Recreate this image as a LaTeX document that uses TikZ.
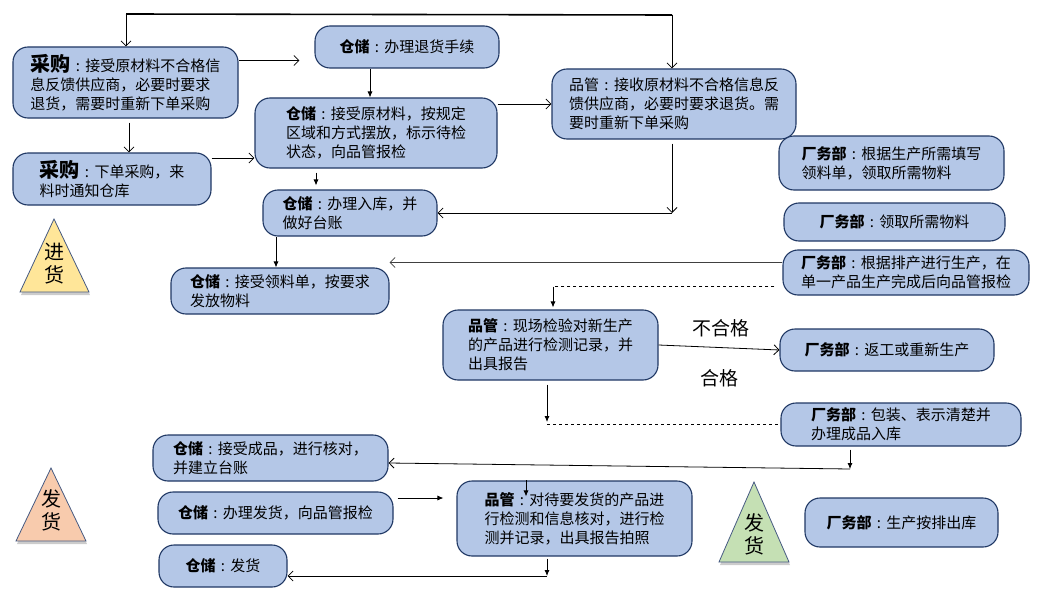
\documentclass[tikz,border=0pt]{standalone}
\usepackage{fontspec}
\setmainfont{Noto Sans CJK SC}
\usetikzlibrary{arrows.meta,shadows}
\definecolor{boxfill}{RGB}{180,199,231}
\definecolor{boxline}{RGB}{32,56,100}
\definecolor{triline}{RGB}{70,90,130}
\definecolor{inyellow}{RGB}{255,230,153}
\definecolor{outorange}{RGB}{248,203,173}
\definecolor{outgreen}{RGB}{197,224,180}
\newcommand{\cln}{\makebox[1em]{:}}
\newcommand{\who}[1]{\textbf{#1}\cln}
\newcommand{\buyhd}{{\fontsize{20}{19}\selectfont\bfseries 采购}\cln}

\begin{document}
\begin{tikzpicture}[x=1pt, y=-1pt,
        box/.style={draw=boxline, fill=boxfill, rounded corners=15pt, line width=1.1pt,
            align=left, inner sep=0pt, font=\fontsize{15}{19}\selectfont},
        tri/.style={draw=triline, line width=0.8pt,
            drop shadow={shadow xshift=1pt, shadow yshift=-3pt, opacity=0.4}},
        trilbl/.style={align=center, inner sep=0pt, font=\fontsize{20}{23}\selectfont},
        lbl/.style={inner sep=0pt, font=\fontsize{19}{22}\selectfont},
        arr/.style={-{Straight Barb[length=5pt, width=10pt]}, line width=0.8pt},
        sarr/.style={-{Latex[length=6pt, width=5pt]}, line width=0.8pt}]
    \useasboundingbox (0,0) rectangle (1042,602);

    % purchasing side
    \node[box, minimum width=225pt, minimum height=71pt] (buy1) at (125.5, 82.5)
        {\buyhd 接受原材料不合格信\\息反馈供应商，必要时要求\\退货，需要时重新下单采购};
    \node[box, minimum width=198pt, minimum height=52pt] (buy2) at (112, 179)
        {\buyhd 下单采购，来\\料时通知仓库};
    \node[box, minimum width=184pt, minimum height=42pt] (ret) at (407, 47)
        {\who{仓储}办理退货手续};
    \node[box, minimum width=242pt, minimum height=70pt] (recv) at (376, 133)
        {\who{仓储}接受原材料，按规定\\区域和方式摆放，标示待检\\状态，向品管报检};
    \node[box, minimum width=244pt, minimum height=70pt] (qc1) at (674, 104)
        {品管\cln 接收原材料不合格信息反\\馈供应商，必要时要求退货。需\\要时重新下单采购};
    \node[box, minimum width=174pt, minimum height=46pt] (stock) at (350, 213)
        {\who{仓储}办理入库，并\\做好台账};
    \node[box, minimum width=218pt, minimum height=46pt] (issue) at (280, 291)
        {\who{仓储}接受领料单，按要求\\发放物料};

    % factory side
    \node[box, minimum width=225pt, minimum height=54pt] (fac1) at (891.5, 163)
        {\who{厂务部}根据生产所需填写\\领料单，领取所需物料};
    \node[box, minimum width=221pt, minimum height=38pt] (fac2) at (894.5, 222)
        {\who{厂务部}领取所需物料};
    \node[box, minimum width=246pt, minimum height=45pt] (fac3) at (906, 272.5)
        {\who{厂务部}根据排产进行生产，在\\单一产品生产完成后向品管报检};
    \node[box, minimum width=215pt, minimum height=70pt] (qc2) at (550.5, 345)
        {\who{品管}现场检验对新生产\\的产品进行检测记录，并\\出具报告};
    \node[box, minimum width=214pt, minimum height=42pt] (fac4) at (887, 350)
        {\who{厂务部}返工或重新生产};
    \node[box, minimum width=240pt, minimum height=43pt] (fac5) at (901, 424.5)
        {\who{厂务部}包装、表示清楚并\\办理成品入库};

    % shipping side
    \node[box, minimum width=235pt, minimum height=46pt] (fin) at (270.5, 458)
        {\who{仓储}接受成品，进行核对，\\并建立台账};
    \node[box, minimum width=235pt, minimum height=42pt] (ship) at (275.5, 513)
        {\who{仓储}办理发货，向品管报检};
    \node[box, minimum width=235pt, minimum height=75pt] (qc3) at (574.5, 518.5)
        {\who{品管}对待要发货的产品进\\行检测和信息核对，进行检\\测并记录，出具报告拍照};
    \node[box, minimum width=193pt, minimum height=49pt] (fac6) at (901.5, 522.5)
        {\who{厂务部}生产按排出库};
    \node[box, minimum width=128pt, minimum height=42pt] (send) at (223, 566)
        {\who{仓储}发货};

    % triangles
    \filldraw[tri, fill=inyellow] (20,292) -- (54,219) -- (89,292) -- cycle;
    \node[trilbl] (inLbl) at (54, 264) {进\\货};
    \filldraw[tri, fill=outorange] (16,541) -- (51,468) -- (86,541) -- cycle;
    \node[trilbl] (outLbl) at (51, 510) {发\\货};
    \filldraw[tri, fill=outgreen] (719,562) -- (754,482) -- (789,562) -- cycle;
    \node[trilbl] (sendLbl) at (754, 534) {发\\货};

    % connectors
    \coordinate (topL) at (126, 14);
    \coordinate (topR) at (672, 15);
    \draw[line width=1.6pt] (topL) -- (topR);
    \draw[arr] (topL) -- (topL |- buy1.north);
    \draw[arr] (topR) -- (topR |- qc1.north);
    \draw[arr, shorten >=15pt] ([yshift=22pt]buy1.east) -- ([yshift=22pt]buy1.east -| ret.west);
    \draw[sarr] ([xshift=-37pt]ret.south) -- ([xshift=-37pt]ret.south |- recv.north);
    \draw[arr, shorten <=4pt] ([xshift=3.5pt]buy1.south) -- ([xshift=3.5pt]buy1.south |- buy2.north);
    \draw[arr] ([yshift=21pt]buy2.east) -- ([yshift=21pt]buy2.east -| recv.west);
    \draw[arr] (recv.east |- qc1.west) -- (qc1.west);
    \draw[sarr, shorten <=4pt, shorten >=4pt] ([xshift=-60pt]recv.south) -- ([xshift=-60pt]recv.south |- stock.north);
    \coordinate (qcCorner) at ([xshift=-2pt]qc1.south |- stock.east);
    \draw[arr, shorten <=4pt] ([xshift=-2pt]qc1.south) -- (qcCorner);
    \draw[arr] (qcCorner) -- (stock.east);
    \draw[sarr] ([xshift=-74pt]stock.south) -- ([xshift=-74pt]stock.south |- issue.north);
    \draw[arr, draw=black!75] ([yshift=10pt]fac3.west) -- ([yshift=10pt]fac3.west -| issue.east);
    \coordinate (chkFrom) at ([yshift=-14pt, xshift=-8pt]fac3.west);
    \coordinate (chkTo) at ([xshift=2.5pt]qc2.north);
    \coordinate (chkC) at (chkTo |- chkFrom);
    \draw[dashed, line width=0.8pt] (chkFrom) -- (chkC);
    \draw[sarr, shorten >=2pt] (chkC) -- (chkTo);
    \draw[arr] (qc2.east) -- (fac4.west)
        node[lbl, pos=0.52, yshift=19pt] (failLbl) {不合格}
        node[lbl, pos=0.50, yshift=-31pt] (passLbl) {合格};
    \coordinate (passC) at ([xshift=-3.5pt]qc2.south |- fac5.west);
    \draw[sarr, shorten <=4pt] ([xshift=-3.5pt]qc2.south) -- ([yshift=2.5pt]passC);
    \draw[dashed, line width=0.8pt] (passC) -- (fac5.west);
    \coordinate (finIn) at ([yshift=-5pt]fin.east);
    \coordinate (finC) at ([xshift=-51pt]fac5.south |- 0,469);
    \draw[sarr, shorten <=3pt] ([xshift=-51pt]fac5.south) -- (finC);
    \draw[arr] (finC) -- (finIn);
    \draw[sarr, shorten <=4pt, shorten >=13pt] ([yshift=15pt]ship.east) -- ([yshift=15pt]ship.east -| qc3.west);
    \coordinate (qcTickA) at ([xshift=-48.5pt]qc3.north);
    \coordinate (qcTickB) at ([xshift=-48.5pt, yshift=-16pt]qc3.north);
    \draw[sarr] (qcTickA) -- (qcTickB);
    \coordinate (sendIn) at ([yshift=-10pt]send.east);
    \coordinate (sendC) at ([xshift=-27.5pt]qc3.south |- sendIn);
    \draw[sarr, shorten <=2pt] ([xshift=-27.5pt]qc3.south) -- (sendC);
    \draw[arr] (sendC) -- (sendIn);
\end{tikzpicture}
\end{document}
